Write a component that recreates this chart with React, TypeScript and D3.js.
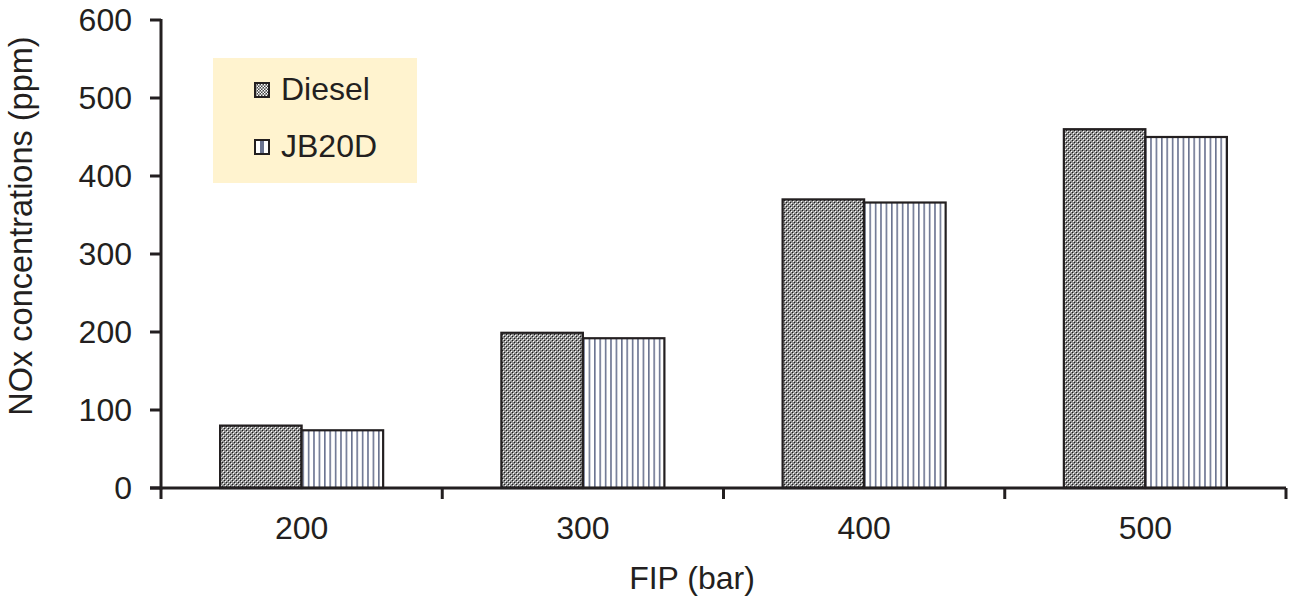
import React from 'react';
import * as d3 from 'd3';

const categories = ['200', '300', '400', '500'];
const diesel = [80, 199, 370, 460];
const jb20d = [74, 192, 366, 450];
const yTicks = [0, 100, 200, 300, 400, 500, 600];
const seriesNames = ['Diesel', 'JB20D'];

const W = 1294;
const H = 612;
const margin = { left: 161, right: 8, top: 20, bottom: 124 };

const App = () => {
  const x = d3.scaleBand<string>().domain(categories).range([margin.left, W - margin.right]);
  const y = d3.scaleLinear().domain([0, 600]).range([H - margin.bottom, margin.top]);
  const inner = d3.scaleBand<string>().domain(seriesNames).range([0, x.bandwidth()]).paddingInner(0).paddingOuter(0.725);
  const y0 = y(0);
  const font = 'Liberation Sans, Arial, sans-serif';
  const ink = '#231f20';

  const series = [diesel, jb20d];
  const fills = ['url(#checker)', 'url(#stripes)'];

  return (
    <svg width={W} height={H} style={{ position: 'absolute', left: 0, top: 0, background: '#fff' }}>
      <defs>
        <pattern id="checker" width="4" height="4" patternUnits="userSpaceOnUse">
          <rect width="4" height="4" fill="#8e8e8e" />
          <rect x="0" y="0" width="1" height="1" fill="#1a1a1a" />
          <rect x="1" y="1" width="1" height="1" fill="#fff" />
          <rect x="2" y="2" width="1" height="1" fill="#1a1a1a" />
          <rect x="3" y="3" width="1" height="1" fill="#fff" />
          <rect x="2" y="0" width="1" height="1" fill="#bbb" />
        </pattern>
        <pattern id="stripes" width="5.4" height="4" patternUnits="userSpaceOnUse">
          <rect width="5.4" height="4" fill="#fff" />
          <rect x="0" y="0" width="1.6" height="4" fill="#6a7390" />
        </pattern>
        <pattern id="checkerLegend" width="3" height="3" patternUnits="userSpaceOnUse">
          <rect width="3" height="3" fill="#444" />
          <rect x="0" y="0" width="1.5" height="1.5" fill="#fff" />
          <rect x="1.5" y="1.5" width="1.5" height="1.5" fill="#fff" />
        </pattern>
      </defs>

      {/* bars */}
      {categories.map((c, i) => (
        <g key={c}>
          {series.map((s, j) => (
            <rect
              key={j}
              x={(x(c) as number) + (inner(seriesNames[j]) as number)}
              y={y(s[i])}
              width={inner.bandwidth()}
              height={y0 - y(s[i])}
              fill={fills[j]}
              stroke={ink}
              strokeWidth={2.2}
            />
          ))}
        </g>
      ))}

      {/* y axis */}
      <line x1={margin.left} x2={margin.left} y1={y(600) - 1} y2={y0 + 1.5} stroke={ink} strokeWidth={3} />
      {yTicks.map(t => (
        <g key={t}>
          <line x1={margin.left - 11} x2={margin.left} y1={y(t)} y2={y(t)} stroke={ink} strokeWidth={3} />
          <text x={132} y={y(t)} dy="0.35em" textAnchor="end" fontFamily={font} fontSize={32} fill={ink}>
            {t}
          </text>
        </g>
      ))}

      {/* x axis */}
      <line x1={margin.left - 11} x2={W - margin.right} y1={y0} y2={y0} stroke={ink} strokeWidth={3} />
      {[...categories.map(c => x(c) as number), W - margin.right].map((p, k) => (
        <line key={k} x1={p} x2={p} y1={y0} y2={y0 + 11} stroke={ink} strokeWidth={3} />
      ))}
      {categories.map(c => (
        <text key={c} x={(x(c) as number) + x.bandwidth() / 2} y={539} textAnchor="middle" fontFamily={font} fontSize={32} fill={ink}>
          {c}
        </text>
      ))}

      {/* axis titles */}
      <text x={692} y={589} textAnchor="middle" fontFamily={font} fontSize={32} fill={ink}>
        FIP (bar)
      </text>
      <text transform="translate(32,226) rotate(-90)" textAnchor="middle" fontFamily={font} fontSize={32.5} fill={ink}>
        NOx concentrations (ppm)
      </text>

      {/* legend */}
      <rect x={213} y={58} width={204} height={125} fill="#fff3cf" />
      {seriesNames.map((n, k) => (
        <g key={n} transform={`translate(0,${k * 57})`}>
          <rect
            x={255}
            y={83}
            width={14}
            height={14}
            fill={k === 0 ? 'url(#checkerLegend)' : '#fff'}
            stroke={ink}
            strokeWidth={2}
          />
          {k === 1 && <rect x={260} y={84} width={4} height={12} fill="#6a7390" />}
          <text x={281} y={100} fontFamily={font} fontSize={32} fill={ink}>
            {n}
          </text>
        </g>
      ))}
    </svg>
  );
};

export default App;
